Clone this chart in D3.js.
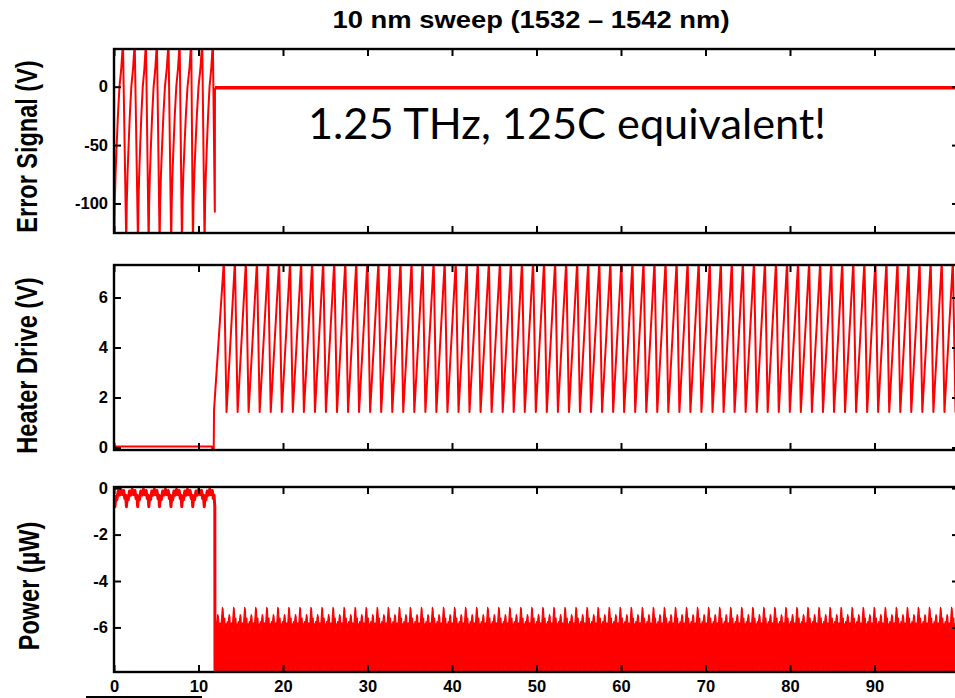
<!DOCTYPE html>
<html>
<head>
<meta charset="utf-8">
<script src="https://cdn.jsdelivr.net/npm/d3@7/dist/d3.min.js"></script>
<style>
  body { margin: 0; background: #fff; }
  svg { display: block; font-family: "Liberation Sans", Arial, sans-serif; }
</style>
</head>
<body>
<div id="chart"></div>
<script>
// values, x runs 0..100 on all three panels
const X_TICKS = [0, 10, 20, 30, 40, 50, 60, 70, 80, 90];
const ERR_TICKS = [0, -50, -100];
const HEATER_TICKS = [0, 2, 4, 6];
const POWER_TICKS = [0, -2, -4, -6];

// error signal, unlocked part: troughs (off the bottom) and peaks (off the top)
const ERR_TROUGHS = [0.03, 1.45, 2.84, 4.10, 5.40, 6.77, 8.04, 9.34, 10.72];
const ERR_PEAKS = [1.06, 2.45, 3.78, 5.08, 6.45, 7.77, 9.14, 10.44, 11.70];
// shape of one recovery, trough -> peak (fraction of the way, value)
const ERR_RECOVERY_FRAC = [0, 0.06, 0.15, 0.28, 0.42, 0.60, 0.80, 1];
const ERR_RECOVERY_VAL = [-135, -100, -75, -50, -25, 0, 15, 38];
const ERR_START = [0, 38];
const ERR_LAST_DROP = [11.93, -107];
const ERR_LOCK = [[11.95, -0.8], [100, -0.8]];

// heater drive
const HEATER_OFF = [[0, 0.04], [11.60, 0.04], [11.66, -0.12], [11.80, -0.12], [11.84, 1.5]];
const HEATER_TROUGHS = [13.32, 14.63, 15.93, 17.24, 18.55, 19.86, 21.16, 22.47, 23.78, 25.08,
  26.39, 27.70, 29.00, 30.31, 31.62, 32.93, 34.23, 35.54, 36.85, 38.15,
  39.46, 40.77, 42.07, 43.38, 44.69, 46.00, 47.30, 48.61, 49.92, 51.22,
  52.53, 53.84, 55.14, 56.45, 57.76, 59.07, 60.37, 61.68, 62.99, 64.29,
  65.60, 66.91, 68.21, 69.52, 70.83, 72.14, 73.44, 74.75, 76.06, 77.36,
  78.67, 79.98, 81.28, 82.59, 83.90, 85.21, 86.51, 87.82, 89.13, 90.43,
  91.74, 93.05, 94.35, 95.66, 96.97, 98.28, 99.59, 100.90];
const HEATER_LOW = 1.42;
const HEATER_HIGH = 7.45;
const HEATER_FALL = 0.32; // peak sits this far before the next trough

// optical power
const POWER_START = [0, -0.3];
const POWER_DIPS = [0.12, 1.47, 2.80, 4.12, 5.38, 6.74, 8.02, 9.32, 10.68, 11.93];
const POWER_HUMP_FRAC = [0, 0.08, 0.16, 0.28, 0.40, 0.52, 0.64, 0.76, 0.86, 0.93, 1];
const POWER_HUMP_VAL = [-0.8, -0.35, -0.5, -0.12, -0.3, -0.05, -0.28, -0.1, -0.45, -0.3, -0.8];
const POWER_LOCK_START = 11.95;
const POWER_TOP_FRAC = [0, 0.06, 0.12, 0.18, 0.24, 0.30, 0.36, 0.44, 0.50, 0.56, 0.60, 0.64, 0.69, 0.73, 0.77, 0.84, 0.90, 0.95, 1];
const POWER_TOP_VAL = [-6.0, -5.75, -6.2, -5.65, -5.45, -5.55, -6.15, -5.8, -6.25, -5.7, -5.4, -5.14, -5.2, -5.5, -6.05, -5.6, -6.2, -5.85, -6.0];
const POWER_BOTTOM_FRAC = [0, 0.12, 0.20, 0.30, 0.42, 0.50, 0.62, 0.75, 0.83, 0.92, 1];
const POWER_BOTTOM_VAL = [-7.98, -7.98, -7.72, -7.98, -7.98, -7.75, -7.98, -7.98, -7.72, -7.98, -7.98];

const TITLE = "10 nm sweep (1532 \u2013 1542 nm)";
const NOTE = "1.25 THz, 125C equivalent!";

const WIDTH = 955;
const HEIGHT = 698;
const RED = "#ff0000";

var svg = d3.select("#chart").append("svg")
  .attr("width", WIDTH)
  .attr("height", HEIGHT);

var x = d3.scaleLinear().domain([0, 100]).range([114, 959]);

// ---- build the traces ----
var errPts = [ERR_START];
ERR_TROUGHS.forEach(function(t, i) {
  var p = ERR_PEAKS[i];
  ERR_RECOVERY_FRAC.forEach(function(f, j) {
    errPts.push([t + f * (p - t), ERR_RECOVERY_VAL[j]]);
  });
});
errPts.push(ERR_LAST_DROP, ERR_LOCK[0]);

var heaterPts = HEATER_OFF.slice();
HEATER_TROUGHS.forEach(function(t, k) {
  heaterPts.push([t - HEATER_FALL, HEATER_HIGH]);
  heaterPts.push([t, HEATER_LOW]);
});

var powerPts = [POWER_START];
for (var i = 0; i < POWER_DIPS.length - 1; i++) {
  var a = POWER_DIPS[i], b = POWER_DIPS[i + 1];
  POWER_HUMP_FRAC.forEach(function(f, j) {
    powerPts.push([a + f * (b - a), POWER_HUMP_VAL[j]]);
  });
}
powerPts.push([POWER_LOCK_START, -7.85]);

// locked band: same period as the heater sawtooth
var anchors = [POWER_LOCK_START].concat(HEATER_TROUGHS);
var bandTop = [], bandBottom = [];
for (var k = 0; k < anchors.length - 1; k++) {
  var a0 = anchors[k], a1 = anchors[k + 1];
  POWER_TOP_FRAC.forEach(function(f, j) { bandTop.push([a0 + f * (a1 - a0), POWER_TOP_VAL[j]]); });
  POWER_BOTTOM_FRAC.forEach(function(f, j) { bandBottom.push([a0 + f * (a1 - a0), POWER_BOTTOM_VAL[j]]); });
}

// ---- panels ----
const panels = [
  { id: "err", top: 49, bottom: 233, domain: [-125.3, 32.3], ticks: ERR_TICKS,
    label: "Error Signal (V)", labelY: 146.5, labelX: 36.5 },
  { id: "heat", top: 265, bottom: 450, domain: [-0.1, 7.3], ticks: HEATER_TICKS,
    label: "Heater Drive (V)", labelY: 365.5, labelX: 36.5 },
  { id: "pow", top: 487, bottom: 672, domain: [-7.92, 0.05], ticks: POWER_TICKS,
    label: "Power (\u00b5W)", labelY: 586, labelX: 38.5 }
];

panels.forEach(function(p, idx) {
  var y = d3.scaleLinear().domain(p.domain).range([p.bottom, p.top]);
  var g = svg.append("g");
  var line = d3.line().x(d => x(d[0])).y(d => y(d[1]));

  g.append("clipPath").attr("id", "clip-" + p.id)
    .append("rect")
    .attr("x", x(0)).attr("y", p.top)
    .attr("width", x(100) - x(0)).attr("height", p.bottom - p.top);

  var data = g.append("g").attr("clip-path", "url(#clip-" + p.id + ")");

  if (p.id == "err") {
    data.append("path").attr("d", line(errPts))
      .attr("fill", "none").attr("stroke", RED).attr("stroke-width", 2)
      .attr("stroke-linejoin", "round");
    data.append("path").attr("d", line(ERR_LOCK))
      .attr("fill", "none").attr("stroke", RED).attr("stroke-width", 3.5);
  } else if (p.id == "heat") {
    data.append("path").attr("d", line(heaterPts))
      .attr("fill", "none").attr("stroke", RED).attr("stroke-width", 2)
      .attr("stroke-linejoin", "round");
  } else {
    data.append("path").attr("d", line(powerPts))
      .attr("fill", "none").attr("stroke", RED).attr("stroke-width", 3)
      .attr("stroke-linejoin", "round");
    var poly = bandTop.concat(bandBottom.slice().reverse());
    data.append("path").attr("d", line(poly) + "Z")
      .attr("fill", RED).attr("stroke", RED).attr("stroke-width", 1.2)
      .attr("stroke-linejoin", "round");
  }

  // ticks, all pointing inwards (matlab style)
  var bottomAxis = d3.axisBottom(x).tickValues(X_TICKS).tickSize(-7).tickPadding(8.5);
  if (idx < 2) bottomAxis.tickFormat("");
  var axes = [
    g.append("g").attr("transform", "translate(0," + p.bottom + ")").call(bottomAxis),
    g.append("g").attr("transform", "translate(0," + p.top + ")")
      .call(d3.axisTop(x).tickValues(X_TICKS).tickSize(-7).tickFormat("")),
    g.append("g").attr("transform", "translate(" + x(0) + ",0)")
      .call(d3.axisLeft(y).tickValues(p.ticks).tickSize(-7).tickPadding(6).tickFormat(d3.format("d"))),
    g.append("g").attr("transform", "translate(" + x(100) + ",0)")
      .call(d3.axisRight(y).tickValues(p.ticks).tickSize(-7).tickFormat(""))
  ];
  axes.forEach(function(ax) {
    ax.select(".domain").remove();
    ax.selectAll("line").attr("stroke", "#000").attr("stroke-width", 2);
    ax.selectAll("text")
      .attr("fill", "#000")
      .style("font-family", "'Liberation Sans', Arial, sans-serif")
      .style("font-size", "16.5px")
      .style("font-weight", "bold")
      .text(function() { return this.textContent.replace("\u2212", "-"); });
  });

  g.append("rect")
    .attr("x", x(0)).attr("y", p.top)
    .attr("width", x(100) - x(0)).attr("height", p.bottom - p.top)
    .attr("fill", "none").attr("stroke", "#000").attr("stroke-width", 2.4);

  svg.append("text")
    .attr("transform", "translate(" + p.labelX + "," + p.labelY + ") scale(1.27,1) rotate(-90)")
    .attr("text-anchor", "middle")
    .style("font-size", "23.5px")
    .style("font-weight", "bold")
    .text(p.label);
});

svg.append("text")
  .attr("x", 531).attr("y", 28)
  .attr("text-anchor", "middle")
  .attr("textLength", 397).attr("lengthAdjust", "spacingAndGlyphs")
  .style("font-size", "23px")
  .style("font-weight", "bold")
  .text(TITLE);

svg.append("text")
  .attr("x", 308).attr("y", 139)
  .attr("textLength", 518).attr("lengthAdjust", "spacingAndGlyphs")
  .style("font-family", "Lato, 'Open Sans', sans-serif")
  .style("font-size", "42px")
  .text(NOTE);

// stray underline below the first two x labels
svg.append("line")
  .attr("x1", 86).attr("x2", 202).attr("y1", 697).attr("y2", 697)
  .attr("stroke", "#000").attr("stroke-width", 2);
</script>
</body>
</html>
